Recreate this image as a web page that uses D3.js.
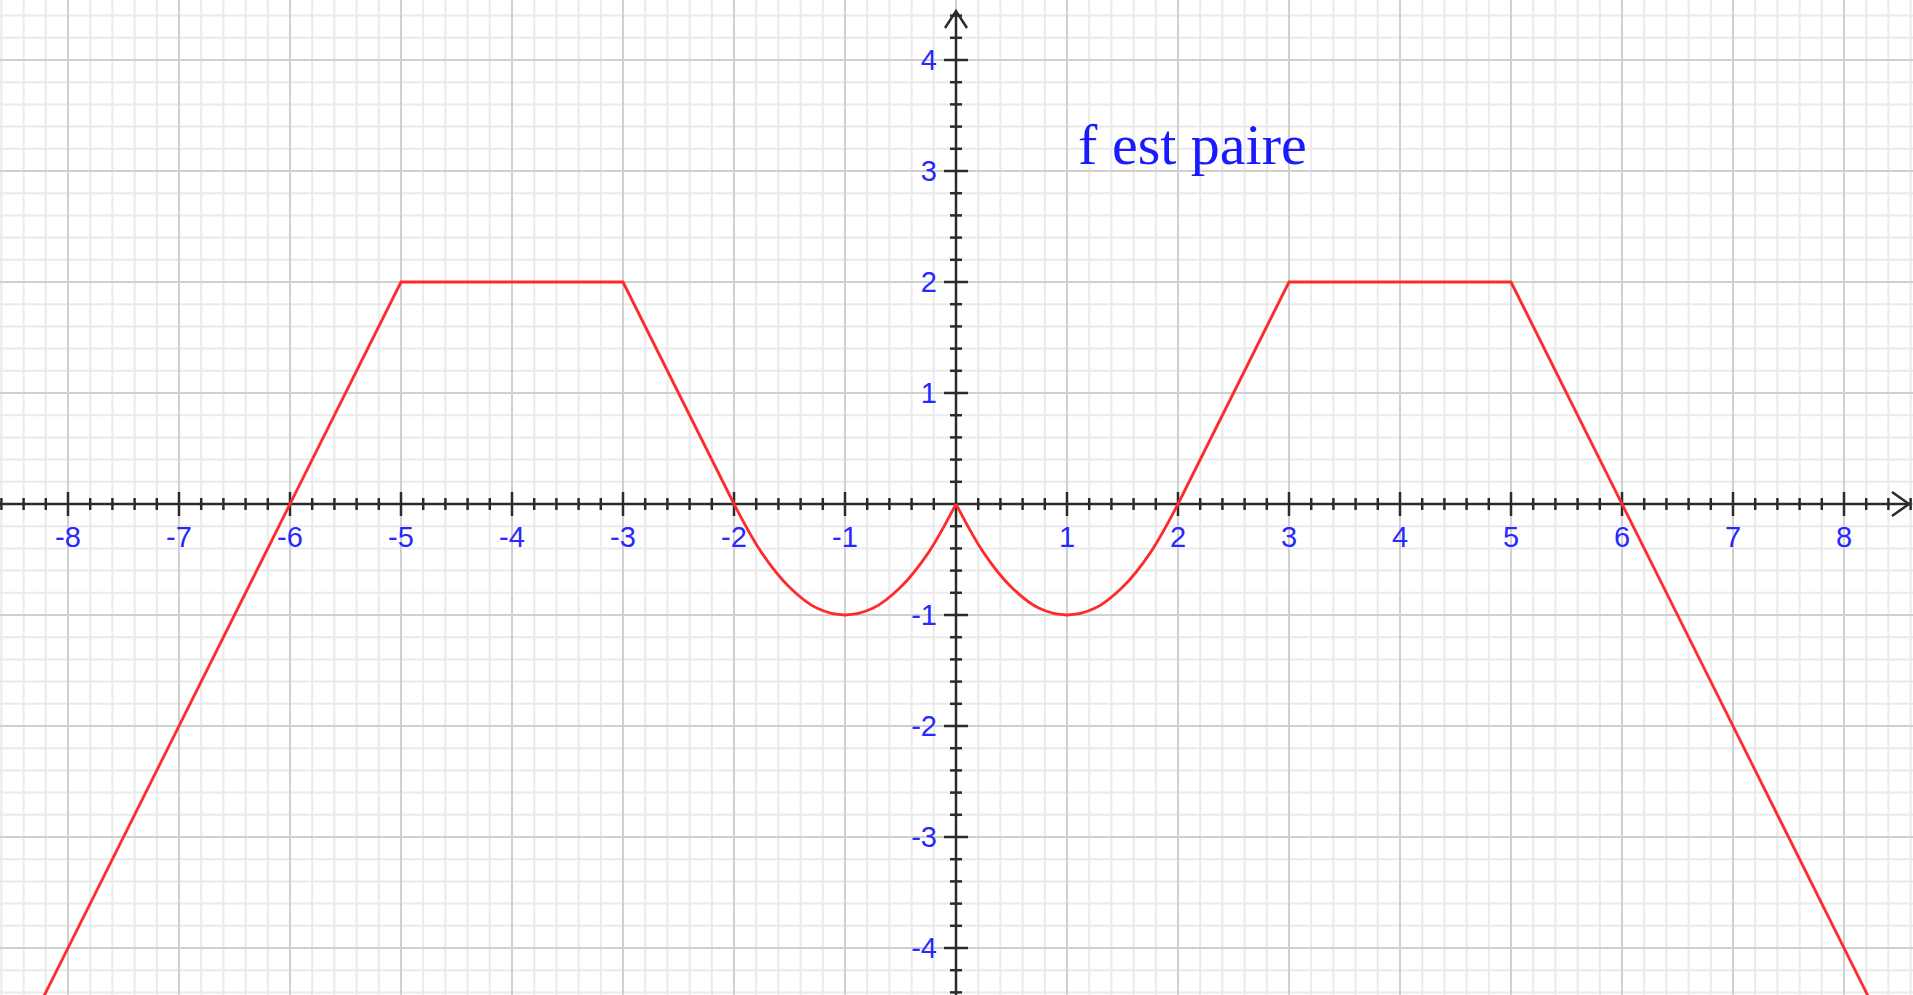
<!DOCTYPE html>
<html>
<head>
<meta charset="utf-8">
<script src="https://cdn.jsdelivr.net/npm/d3@7"></script>
<style>
  html, body { margin: 0; padding: 0; background: #fff; overflow: hidden; }
  svg { display: block; }
</style>
</head>
<body>
<div id="chart"></div>
<script>
// tick labels on the axes
var xTicks = [-8, -7, -6, -5, -4, -3, -2, -1, 1, 2, 3, 4, 5, 6, 7, 8];
var yTicks = [-4, -3, -2, -1, 1, 2, 3, 4];

// straight pieces of the graph (x, y)
var leftLine = [[-8.8, -5.6], [-5, 2], [-3, 2], [-2, 0]];
var rightLine = [[2, 0], [3, 2], [5, 2], [8.8, -5.6]];

// curved pieces, points
var leftArc = [[-2, 0], [-1.75, -0.44], [-1.5, -0.75], [-1.25, -0.94], [-1, -1], [-0.75, -0.94], [-0.5, -0.75], [-0.25, -0.44], [0, 0]];
var rightArc = [[0, 0], [0.25, -0.44], [0.5, -0.75], [0.75, -0.94], [1, -1], [1.25, -0.94], [1.5, -0.75], [1.75, -0.44], [2, 0]];

var title = "f est paire";

var W = 1913, H = 995;

var svg = d3.select("#chart").append("svg")
    .attr("width", W)
    .attr("height", H);

var x = d3.scaleLinear().domain([-8, 8]).range([68, 1844]);
var y = d3.scaleLinear().domain([-4, 4]).range([948, 60]);

var x0 = x.invert(0), x1 = x.invert(W);
var y0 = y.invert(H), y1 = y.invert(0);

function isMajor(d){ return Math.abs(d - Math.round(d)) < 1e-6; }

// grid: minor every 0.2, major every 1
var minorX = d3.range(Math.ceil(x0 * 5), Math.floor(x1 * 5) + 1).map(function(d){ return d / 5; });
var minorY = d3.range(Math.ceil(y0 * 5), Math.floor(y1 * 5) + 1).map(function(d){ return d / 5; });

var grid = svg.append("g").attr("class", "grid");

grid.selectAll(".vx")
    .data(minorX).enter().append("line")
    .attr("x1", function(d){ return x(d); })
    .attr("x2", function(d){ return x(d); })
    .attr("y1", 0).attr("y2", H)
    .attr("stroke", function(d){ return isMajor(d) ? "#d0d0d0" : "#eaeaea"; })
    .attr("stroke-width", 2);

grid.selectAll(".hy")
    .data(minorY).enter().append("line")
    .attr("y1", function(d){ return y(d); })
    .attr("y2", function(d){ return y(d); })
    .attr("x1", 0).attr("x2", W)
    .attr("stroke", function(d){ return isMajor(d) ? "#d0d0d0" : "#eaeaea"; })
    .attr("stroke-width", 2);

// major lines on top of minor
grid.selectAll("line").filter(isMajor).raise();

// axes
var axes = svg.append("g").attr("class", "axes").attr("stroke", "#2b2b2b").attr("fill", "none");

axes.append("line")
    .attr("x1", 0).attr("x2", W - 5)
    .attr("y1", y(0)).attr("y2", y(0))
    .attr("stroke-width", 2.5);

axes.append("line")
    .attr("x1", x(0)).attr("x2", x(0))
    .attr("y1", 13).attr("y2", H)
    .attr("stroke-width", 2.5);

// arrows
axes.append("path")
    .attr("d", "M" + (W - 21) + "," + (y(0) - 12) + "L" + (W - 4) + "," + y(0) + "L" + (W - 21) + "," + (y(0) + 12))
    .attr("stroke-width", 2.5);

axes.append("path")
    .attr("d", "M" + (x(0) - 11) + "," + 28 + "L" + x(0) + "," + 11 + "L" + (x(0) + 11) + "," + 28)
    .attr("stroke-width", 2.5);

// ticks on the axes
axes.selectAll(".tx")
    .data(minorX.filter(function(d){ return Math.abs(d) > 1e-6; })).enter().append("line")
    .attr("x1", function(d){ return x(d); })
    .attr("x2", function(d){ return x(d); })
    .attr("y1", function(d){ return y(0) - (isMajor(d) ? 12 : 6); })
    .attr("y2", function(d){ return y(0) + (isMajor(d) ? 12 : 6); })
    .attr("stroke-width", 2.5);

axes.selectAll(".ty")
    .data(minorY.filter(function(d){ return Math.abs(d) > 1e-6; })).enter().append("line")
    .attr("y1", function(d){ return y(d); })
    .attr("y2", function(d){ return y(d); })
    .attr("x1", function(d){ return x(0) - (isMajor(d) ? 12 : 6); })
    .attr("x2", function(d){ return x(0) + (isMajor(d) ? 12 : 6); })
    .attr("stroke-width", 2.5);

// tick labels
var labels = svg.append("g")
    .style("font-family", "'Liberation Sans', Arial, sans-serif")
    .style("font-size", "29px")
    .attr("fill", "#2828ff");

labels.selectAll(".lx")
    .data(xTicks).enter().append("text")
    .attr("x", function(d){ return x(d); })
    .attr("y", y(0) + 43)
    .attr("text-anchor", "middle")
    .text(function(d){ return d; });

labels.selectAll(".ly")
    .data(yTicks).enter().append("text")
    .attr("x", x(0) - 19)
    .attr("y", function(d){ return y(d); })
    .attr("dy", "0.36em")
    .attr("text-anchor", "end")
    .text(function(d){ return d; });

// the graph of f
var plot = svg.append("g")
    .attr("fill", "none")
    .attr("stroke", "#ff2a2a")
    .attr("stroke-width", 2.8);

var straight = d3.line()
    .x(function(d){ return x(d[0]); })
    .y(function(d){ return y(d[1]); });

var curved = d3.line()
    .x(function(d){ return x(d[0]); })
    .y(function(d){ return y(d[1]); })
    .curve(d3.curveCatmullRom);

[leftLine, rightLine].forEach(function(pts){
    plot.append("path").attr("d", straight(pts));
});

[leftArc, rightArc].forEach(function(pts){
    plot.append("path").attr("d", curved(pts));
});

svg.append("text")
    .attr("x", x(1.1))
    .attr("y", y(3.06))
    .style("font-family", "'Liberation Serif', 'Times New Roman', serif")
    .style("font-size", "58px")
    .attr("fill", "#1a1aff")
    .text(title);
</script>
</body>
</html>
